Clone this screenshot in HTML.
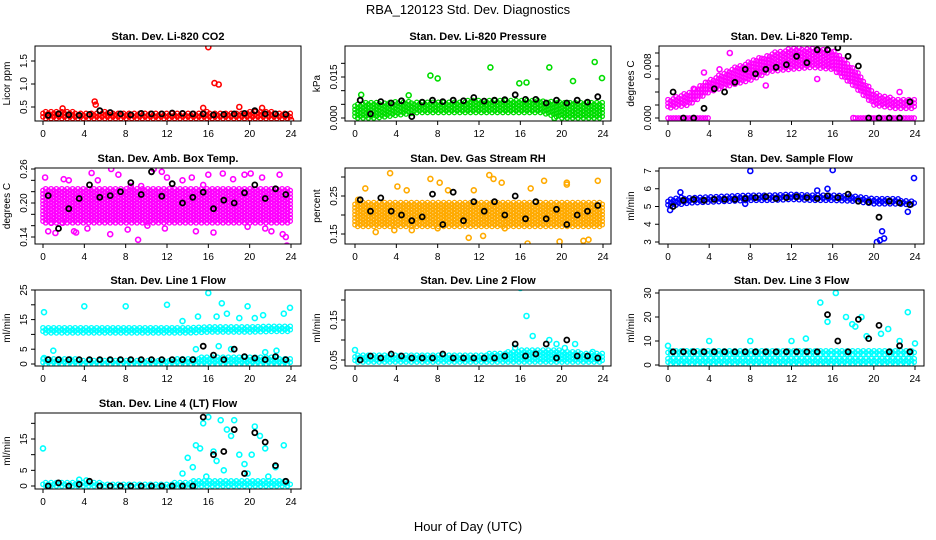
<!DOCTYPE html>
<html><head><meta charset="utf-8"><style>
html,body{margin:0;padding:0;background:#fff;}
svg{display:block;font-family:"Liberation Sans",sans-serif;}
</style></head><body>
<svg id="chart" width="936" height="540" viewBox="0 0 936 540">
<text x="468" y="14" text-anchor="middle" font-size="13">RBA_120123  Std. Dev. Diagnostics</text>
<text x="468" y="531" text-anchor="middle" font-size="13">Hour of Day (UTC)</text>
</svg>
<script>
const BAND_HOURS=[0,2,4,6,8,10,12,14,16,18,20,22,24];
const BLK_X=[0.5,1.5,2.5,3.5,4.5,5.5,6.5,7.5,8.5,9.5,10.5,11.5,12.5,13.5,14.5,15.5,16.5,17.5,18.5,19.5,20.5,21.5,22.5,23.5];
const X_TICKS=[0,4,8,12,16,20,24];

const co2BandLo=[0.25,0.25,0.25,0.25,0.25,0.25,0.25,0.25,0.25,0.25,0.25,0.25,0.25];
const co2BandHi=[0.42,0.42,0.38,0.40,0.38,0.38,0.38,0.38,0.40,0.38,0.40,0.40,0.38];
const co2OutX=[16,16.6,17,5,5.1,19,21.2,15.5,1.9,24];
const co2OutY=[1.8,1.02,0.99,0.62,0.55,0.5,0.48,0.48,0.47,0.22];
const co2Blk=[0.32,0.35,0.33,0.32,0.34,0.42,0.38,0.35,0.33,0.36,0.35,0.35,0.37,0.36,0.35,0.35,0.33,0.34,0.35,0.36,0.42,0.35,0.35,0.34];

const presBandLo=[0.0,0.0,0.001,0.002,0.002,0.002,0.002,0.002,0.002,0.002,0.0,0.0,0.0];
const presBandHi=[0.0055,0.0058,0.006,0.0062,0.0062,0.0063,0.0065,0.0065,0.0066,0.0064,0.006,0.006,0.0058];
const presOutX=[0.6,5.2,7.3,8,13.1,15.9,16.6,18.8,21.1,23.2,23.9,19.3];
const presOutY=[0.0085,0.0083,0.0155,0.0145,0.0185,0.0127,0.013,0.0185,0.0135,0.0205,0.0146,0.0];
const presBlk=[0.0065,0.0015,0.006,0.0055,0.0063,0.0005,0.0058,0.0065,0.006,0.0065,0.0063,0.0075,0.0062,0.0065,0.0067,0.0085,0.0068,0.0068,0.0055,0.0065,0.0055,0.0065,0.0058,0.0078];

const ltBandLo=[0.0015,0.002,0.004,0.005,0.0058,0.0072,0.0075,0.0078,0.0075,0.005,0.002,0.0015,0.0015];
const ltBandHi=[0.003,0.004,0.0058,0.0075,0.0088,0.010,0.0108,0.0108,0.0105,0.0078,0.004,0.003,0.003];
const ltBand2Lo=[0,0,0,null,null,null,null,null,null,0,0,0,0];
const ltBand2Hi=[0,0,0,null,null,null,null,null,null,0,0,0,0];
const ltOutX=[3.5,6,9.5,13,22.5,18,5,10.5,14.5,2.5];
const ltOutY=[0.007,0.010,0.005,0.012,0.004,0.0,0.0075,0.0115,0.006,0.0045];
const ltBlk=[0.004,0.0,0.0,0.0015,0.0045,0.004,0.0055,0.0075,0.0068,0.0075,0.0078,0.0082,0.0095,0.0085,0.0105,0.0105,0.0108,0.0095,0.008,0.0,0.0,0.0,0.0,0.0025];

const abBandLo=[0.165,0.165,0.165,0.165,0.165,0.165,0.165,0.165,0.165,0.165,0.165,0.165,0.165];
const abBandHi=[0.225,0.225,0.225,0.225,0.225,0.225,0.225,0.225,0.225,0.225,0.225,0.225,0.225];
const abOutX=[0.2,0.8,1.2,2,2.5,3,4.7,5.3,6.6,7.3,8.5,9.5,10.7,11.5,12,13.5,14.4,15.5,16,17.4,18.4,19.5,20.1,21.2,22.1,22.9,23.2,23.6,0.5,1.9,3.2,4.3,6.5,8.2,9.2,10.1,11.8,14.8,16.5,19.8,21.5,23.5];
const abOutY=[0.245,0.165,0.147,0.242,0.24,0.15,0.253,0.24,0.26,0.25,0.23,0.23,0.26,0.255,0.245,0.24,0.245,0.232,0.25,0.252,0.242,0.25,0.252,0.245,0.15,0.25,0.145,0.125,0.15,0.165,0.148,0.155,0.145,0.153,0.135,0.16,0.155,0.15,0.148,0.158,0.155,0.14];
const abBlk=[0.213,0.155,0.19,0.208,0.232,0.21,0.213,0.22,0.236,0.215,0.255,0.212,0.234,0.2,0.21,0.219,0.19,0.205,0.2,0.218,0.232,0.208,0.225,0.215];

const rhBandLo=[0.17,0.17,0.17,0.17,0.17,0.17,0.17,0.17,0.17,0.17,0.17,0.17,0.17];
const rhBandHi=[0.235,0.235,0.235,0.235,0.235,0.235,0.235,0.235,0.235,0.235,0.235,0.235,0.235];
const rhOutX=[1,3.4,4.1,5,7.3,8.2,9,11.5,13,13.4,14.2,17,18.3,19.8,20.5,22.1,23.5,2,5.5,8,11,14.5,16.7,20.5,22.6,0.3,3.8,12.4];
const rhOutY=[0.27,0.31,0.275,0.265,0.295,0.285,0.265,0.265,0.305,0.295,0.285,0.27,0.29,0.13,0.285,0.132,0.29,0.155,0.16,0.165,0.14,0.165,0.125,0.28,0.135,0.24,0.16,0.145];
const rhBlk=[0.24,0.21,0.245,0.21,0.2,0.185,0.195,0.255,0.175,0.26,0.185,0.235,0.21,0.235,0.2,0.25,0.19,0.235,0.19,0.215,0.175,0.2,0.21,0.225];

const sfBandLo=[5.0,5.2,5.25,5.3,5.35,5.35,5.4,5.35,5.35,5.3,5.15,5.15,5.1];
const sfBandHi=[5.45,5.55,5.6,5.6,5.7,5.7,5.75,5.7,5.7,5.6,5.5,5.45,5.35];
const sfOutX=[0.2,1.2,8,16,20.3,20.6,20.8,21,23.3,23.9,15.5,7.5,14.5];
const sfOutY=[4.8,5.8,7.0,7.05,3.0,3.1,3.6,3.2,4.7,6.6,6.0,5.15,5.9];
const sfBlk=[5.0,5.35,5.4,5.35,5.4,5.4,5.4,5.45,5.5,5.55,5.45,5.5,5.55,5.5,5.45,5.6,5.5,5.7,5.3,5.25,4.4,5.3,5.2,5.1];

const l1BandLo=[10.5,10.5,10.5,10.5,10.5,10.5,10.5,10.5,10.8,10.8,10.8,11,11];
const l1BandHi=[12.5,12.5,12.5,12.5,12.5,12.5,12.5,12.5,12.8,12.8,12.8,13,13];
const l1Band2Lo=[0,0,0,0,0,0,0,0,0,0,0,0,0];
const l1Band2Hi=[2,2,1.5,1.5,1.5,1.5,1.5,2,2.5,2.5,2.5,2.5,2];
const l1OutX=[0.1,4,8,12,16,17.3,19.8,23.9,15,17.8,20.5,21.3,13.5,19,16.8,23.3,0.1,1,14.8,17,18.2,21.5,22.6];
const l1OutY=[17.5,19.5,19.5,20,24,20.5,19.5,19,16,17,15.5,16.5,14.5,15.5,16,17,2,4.5,5,6,5,4,4.5];
const l1Blk=[1.5,1.5,1.5,1.5,1.5,1.5,1.5,1.5,1.5,1.5,1.5,1.5,1.5,1.5,1.5,6,3,1.5,5,2.5,2,1.5,2.5,1.5];

const l2BandLo=[0.045,0.045,0.045,0.045,0.045,0.045,0.045,0.045,0.045,0.045,0.045,0.045,0.045];
const l2BandHi=[0.065,0.065,0.065,0.065,0.065,0.065,0.065,0.068,0.075,0.075,0.075,0.07,0.068];
const l2OutX=[0,16,16.6,17.2,18.8,19.5,21.3,20.3,15.5,23];
const l2OutY=[0.075,0.23,0.16,0.11,0.1,0.09,0.09,0.08,0.08,0.07];
const l2Blk=[0.05,0.06,0.055,0.065,0.06,0.055,0.055,0.055,0.065,0.055,0.055,0.055,0.055,0.055,0.06,0.09,0.06,0.065,0.09,0.055,0.1,0.06,0.06,0.055];

const l3BandLo=[0.5,0.5,0.5,0.5,0.5,0.5,0.5,0.5,0.5,0.5,0.5,0.5,0.5];
const l3BandHi=[3,3,3,3,3,3,3,3,3,3,3,3,3];
const l3Band2Lo=[4.5,4.5,4.5,4.5,4.5,4.5,4.5,4.5,4.5,4.5,4.5,4.5,4.5];
const l3Band2Hi=[6,6,6,6,6,6,6,6,6,6,6,6,6];
const l3OutX=[0,4,8,12,14.8,16.3,17.3,18.8,23.3,24,15.5,17.9,19.3,20.7,21.4,13.4,18.2,22.5];
const l3OutY=[8,10,10,10,26,30,20,20,22,9,18,17,12,13,15,11,16,10];
const l3Blk=[5.5,5.5,5.5,5.5,5.5,5.5,5.5,5.5,5.5,5.5,5.5,5.5,5.5,5.5,5.5,21,10,5.5,19,11,16.5,5.5,8,5.5];

const l4BandLo=[0,0,0,0,0,0,0,0,0,0,0,0,0];
const l4BandHi=[1.5,1.5,1.5,1,1,1,1,1.5,2,2,2,2,1.5];
const l4OutX=[0,14,14.8,15.5,16,16.5,17.2,17.8,18.5,19,19.5,20.5,21,21.5,22.5,23.3,14.5,15.2,16.8,18.2,19.8,20.2,21.8,13.5,15.8,17.5,3.5,4.2];
const l4OutY=[12,9,13,20,22,11,21,18,21,10,7,19,16,12,6,13,6,12,8,16,4,10,3,4,3,5,2,1.8];
const l4Blk=[0,1,0,0.5,1.5,0,0,0,0,0,0,0,0,0,0,22,10,11,18,4,17,14,6.5,1.5];

const NS='http://www.w3.org/2000/svg';
const svg=document.getElementById('chart');
function el(tag,attrs,parent){const e=document.createElementNS(NS,tag);for(const k in attrs)e.setAttribute(k,attrs[k]);(parent||svg).appendChild(e);return e;}

const COLS=[{l:35,r:301,x0:43,x24:291},{l:345,r:611,x0:355,x24:603},{l:659,r:924,x0:668,x24:915}];
const ROWS=[{t:46,b:121},{t:168,b:244},{t:290,b:366},{t:413,b:489}];

const panels=[
 {key:'co2',title:'Stan. Dev. Li-820 CO2',ylab:'Licor ppm',c:0,r:0,color:'#ff0000',vA:0.5,pA:107,vB:1.5,pB:61,ticks:[0.5,1.0,1.5],labs:['0.5','1.0','1.5'],bands:[[co2BandLo,co2BandHi]],ox:co2OutX,oy:co2OutY,blk:co2Blk},
 {key:'pressure',title:'Stan. Dev. Li-820 Pressure',ylab:'kPa',c:1,r:0,color:'#00dd00',vA:0,pA:118,vB:0.015,pB:77,ticks:[0,0.005,0.010,0.015,0.020],labs:['0.000','','','0.015',''],bands:[[presBandLo,presBandHi]],ox:presOutX,oy:presOutY,blk:presBlk},
 {key:'licor-temp',title:'Stan. Dev. Li-820 Temp.',ylab:'degrees C',c:2,r:0,color:'#ff00ff',vA:0,pA:118,vB:0.008,pB:66,ticks:[0,0.002,0.004,0.006,0.008,0.010],labs:['0.000','','','','0.008',''],bands:[[ltBandLo,ltBandHi],[ltBand2Lo,ltBand2Hi]],ox:ltOutX,oy:ltOutY,blk:ltBlk},
 {key:'amb-box-temp',title:'Stan. Dev. Amb. Box Temp.',ylab:'degrees C',c:0,r:1,color:'#ff00ff',vA:0.14,pA:237,vB:0.26,pB:169,ticks:[0.14,0.16,0.18,0.20,0.22,0.24,0.26],labs:['0.14','','','0.20','','','0.26'],bands:[[abBandLo,abBandHi]],ox:abOutX,oy:abOutY,blk:abBlk},
 {key:'gas-rh',title:'Stan. Dev. Gas Stream RH',ylab:'percent',c:1,r:1,color:'#ffaa00',vA:0.15,pA:234,vB:0.25,pB:196,ticks:[0.15,0.20,0.25,0.30],labs:['0.15','','0.25',''],bands:[[rhBandLo,rhBandHi]],ox:rhOutX,oy:rhOutY,blk:rhBlk},
 {key:'sample-flow',title:'Stan. Dev. Sample Flow',ylab:'ml/min',c:2,r:1,color:'#0000ff',vA:3,pA:242,vB:7,pB:171,ticks:[3,4,5,6,7],labs:['3','4','5','6','7'],bands:[[sfBandLo,sfBandHi]],ox:sfOutX,oy:sfOutY,blk:sfBlk},
 {key:'line1-flow',title:'Stan. Dev. Line 1 Flow',ylab:'ml/min',c:0,r:2,color:'#00ffff',vA:0,pA:364,vB:25,pB:290,ticks:[0,5,10,15,20,25],labs:['0','5','','15','','25'],bands:[[l1BandLo,l1BandHi],[l1Band2Lo,l1Band2Hi]],ox:l1OutX,oy:l1OutY,blk:l1Blk},
 {key:'line2-flow',title:'Stan. Dev. Line 2 Flow',ylab:'ml/min',c:1,r:2,color:'#00ffff',vA:0.05,pA:360,vB:0.15,pB:320,ticks:[0.05,0.10,0.15,0.20],labs:['0.05','','0.15',''],bands:[[l2BandLo,l2BandHi]],ox:l2OutX,oy:l2OutY,blk:l2Blk},
 {key:'line3-flow',title:'Stan. Dev. Line 3 Flow',ylab:'ml/min',c:2,r:2,color:'#00ffff',vA:0,pA:365,vB:30,pB:293,ticks:[0,10,20,30],labs:['0','10','20','30'],bands:[[l3BandLo,l3BandHi],[l3Band2Lo,l3Band2Hi]],ox:l3OutX,oy:l3OutY,blk:l3Blk},
 {key:'line4-flow',title:'Stan. Dev. Line 4 (LT) Flow',ylab:'ml/min',c:0,r:3,color:'#00ffff',vA:0,pA:486,vB:15,pB:439,ticks:[0,5,10,15,20],labs:['0','5','','15',''],bands:[[l4BandLo,l4BandHi]],ox:l4OutX,oy:l4OutY,blk:l4Blk}
];

function interp(arr,h){
  const i=Math.min(Math.floor(h/2),BAND_HOURS.length-2);
  const a=arr[i],b=arr[i+1];
  if(a===null||b===null)return null;
  const t=(h-BAND_HOURS[i])/2;return a+(b-a)*t;
}

panels.forEach(p=>{
  const C=COLS[p.c],R=ROWS[p.r];
  const xs=h=>C.x0+(C.x24-C.x0)*h/24;
  const ys=v=>p.pA+(v-p.vA)*(p.pB-p.pA)/(p.vB-p.vA);
  const g=el('g',{});
  
  
  const t=el('text',{x:(C.l+C.r)/2,y:R.t-6,'text-anchor':'middle','font-size':'11','font-weight':'bold'},g);
  t.textContent=p.title;
  
  
  const cp='clip-'+p.key;
  const cpe=el('clipPath',{id:cp},g);el('rect',{x:C.l,y:R.t,width:C.r-C.l,height:R.b-R.t},cpe);
  const marks=el('g',{'clip-path':'url(#'+cp+')'},g);
  
  
  p.bands.forEach(bd=>{
    const bg=el('g',{fill:'none',stroke:p.color,'stroke-width':'1.3'},marks);
    
    
    let col=0;
    for(let h=0;h<=24.001;h+=0.26){
      const lo=interp(bd[0],h),hi=interp(bd[1],h);
      col++;
      if(lo===null||hi===null)continue;
      const y1=ys(lo),y2=ys(hi);
      const top=Math.min(y1,y2),bot=Math.max(y1,y2);
      const off=(col%2)*1.7;
      let n=0;
      for(let y=bot-off;y>=top-0.01;y-=3.4){el('circle',{cx:xs(h).toFixed(1),cy:y.toFixed(1),r:'2.2'},bg);n++;}
      if(n===0) el('circle',{cx:xs(h).toFixed(1),cy:bot.toFixed(1),r:'2.2'},bg);
    }
  });
  const og=el('g',{fill:'none',stroke:p.color,'stroke-width':'1.6'},marks);
  
  
  p.ox.forEach((x,i)=>{el('circle',{cx:xs(x).toFixed(1),cy:ys(p.oy[i]).toFixed(1),r:'2.5'},og);});
  const kg=el('g',{fill:'none',stroke:'#000','stroke-width':'1.8'},marks);
  
  
  p.blk.forEach((v,i)=>{el('circle',{cx:xs(BLK_X[i]).toFixed(1),cy:ys(v).toFixed(1),r:'2.5'},kg);});
  const fr=el('rect',{x:C.l,y:R.t,width:C.r-C.l,height:R.b-R.t,fill:'none',stroke:'#000','stroke-width':'1'},g);
  
  
  const xa=el('g',{'font-size':'10'},g);
  
  
  X_TICKS.forEach(h=>{
    el('line',{x1:xs(h),x2:xs(h),y1:R.b,y2:R.b+4,stroke:'#000'},xa);
    const tl=el('text',{x:xs(h),y:R.b+16,'text-anchor':'middle'},xa);tl.textContent=h;
  });
  const ya=el('g',{'font-size':'10'},g);
  
  
  p.ticks.forEach((v,i)=>{
    const y=ys(v);
    el('line',{x1:C.l-4,x2:C.l,y1:y,y2:y,stroke:'#000'},ya);
    if(p.labs[i]){const tl=el('text',{x:C.l-8,y:y,'text-anchor':'middle',transform:'rotate(-90 '+(C.l-8)+' '+y+')'},ya);tl.textContent=p.labs[i];}
  });
  const yl=el('text',{x:C.l-25,y:(R.t+R.b)/2,'text-anchor':'middle','font-size':'10',transform:'rotate(-90 '+(C.l-25)+' '+((R.t+R.b)/2)+')'},g);
  yl.textContent=p.ylab;
  
  
});
</script>
</body></html>
